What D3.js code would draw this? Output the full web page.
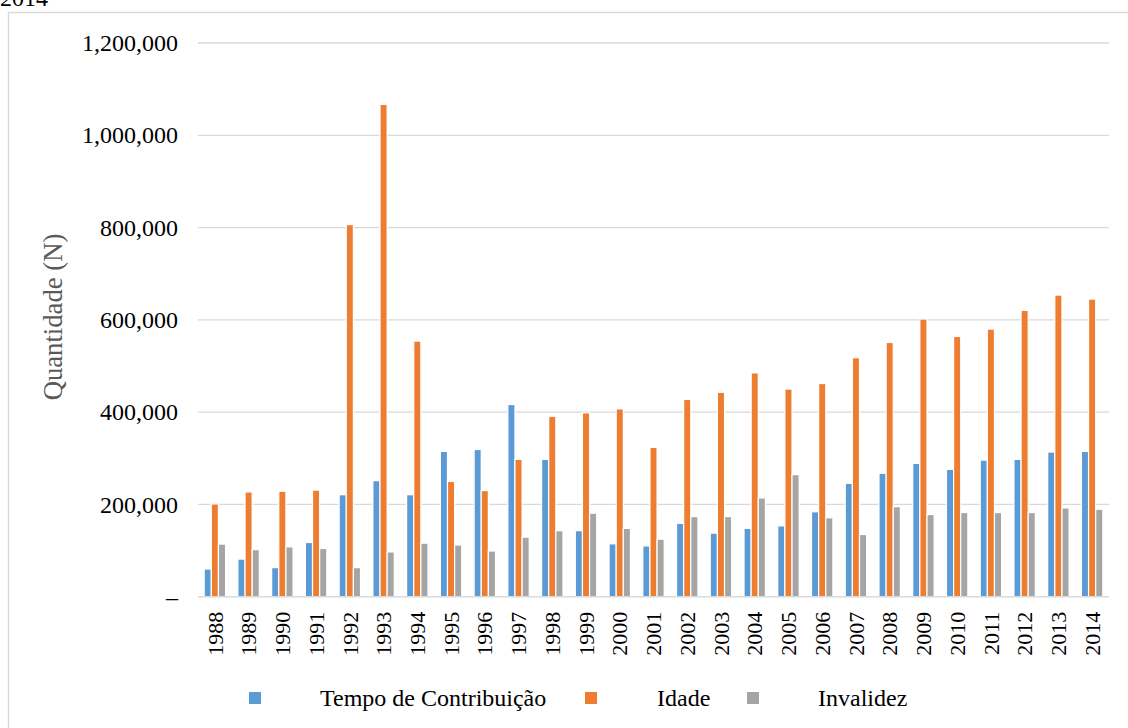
<!DOCTYPE html>
<html>
<head>
<meta charset="utf-8">
<script src="https://cdn.jsdelivr.net/npm/d3@7"></script>
<style>
  html, body { margin: 0; padding: 0; background: #fff; }
  svg { display: block; }
  svg text { font-family: "Liberation Serif", "Times New Roman", serif; }
</style>
</head>
<body>
<svg id="chart" width="1128" height="728"></svg>
<script>
const years = ["1988","1989","1990","1991","1992","1993","1994","1995","1996","1997","1998","1999","2000","2001","2002","2003","2004","2005","2006","2007","2008","2009","2010","2011","2012","2013","2014"];
const seriesNames = ["Tempo de Contribuição", "Idade", "Invalidez"];
const tempoContribuicao = [60000, 81500, 63000, 117500, 221000, 251500, 221000, 315000, 319000, 416500, 297700, 143000, 114600, 110000, 159000, 137700, 148000, 153500, 184000, 245800, 267500, 289000, 276000, 296000, 297700, 313500, 315000];
const idade = [201000, 227000, 228500, 231000, 806500, 1067000, 554000, 250000, 230000, 297700, 391000, 398500, 407000, 323600, 427500, 443000, 485000, 450000, 462000, 518000, 551000, 601800, 564000, 580000, 620500, 653700, 645000];
const invalidez = [114000, 102000, 108000, 104500, 63000, 97000, 116000, 112000, 99000, 129000, 143000, 181000, 148000, 124700, 173600, 173600, 214000, 264500, 171000, 134800, 195000, 178000, 182400, 182400, 182400, 192400, 189600];
const yTicks = [0, 200000, 400000, 600000, 800000, 1000000, 1200000];
const colors = ["#5B9BD5", "#ED7D31", "#A5A5A5"];

const allSeries = [tempoContribuicao, idade, invalidez];
const data = years.map((yr, i) => ({ year: yr, values: allSeries.map((s, k) => ({ k, v: s[i] })) }));
const FONT = "'Liberation Serif', 'Times New Roman', serif";

const svg = d3.select("#chart");

// outer chart border (only top & left visible)
svg.append("line").attr("x1", 8).attr("x2", 1128).attr("y1", 12.5).attr("y2", 12.5)
  .attr("stroke", "#d9d9d9").attr("stroke-width", 1.5);
svg.append("line").attr("x1", 8.5).attr("x2", 8.5).attr("y1", 12).attr("y2", 728)
  .attr("stroke", "#d9d9d9").attr("stroke-width", 1.5);

// cut-off title remnant (as in the reference, only its lower part is visible)
svg.append("text").attr("x", 0).attr("y", 6).attr("font-size", 24).attr("font-family", FONT)
  .attr("fill", "#000").text("2014");

const x0 = d3.scaleBand().domain(years).range([198, 1109]).paddingInner(0.366).paddingOuter(0.183);
const x1 = d3.scaleBand().domain([0, 1, 2]).range([0, x0.bandwidth()]);
const y = d3.scaleLinear().domain([0, 1200000]).range([596.7, 43]);

// gridlines
svg.append("g").selectAll("line").data(yTicks.filter(d => d > 0)).join("line")
  .attr("x1", 198).attr("x2", 1109)
  .attr("y1", d => y(d)).attr("y2", d => y(d))
  .attr("stroke", "#d9d9d9").attr("stroke-width", 1.3);

// y axis labels
const yAxis = d3.axisLeft(y).tickValues(yTicks).tickSize(0).tickPadding(0)
  .tickFormat(d => d === 0 ? "–" : d3.format(",")(d));
const gy = svg.append("g").attr("transform", "translate(178,0)").call(yAxis);
gy.attr("font-family", FONT);
gy.select(".domain").remove();
gy.selectAll("text").attr("font-size", 24).attr("fill", "#000")
  .attr("font-family", FONT).attr("dy", "0.32em");

// bars
const groups = svg.append("g").selectAll("g").data(data).join("g")
  .attr("transform", d => `translate(${x0(d.year)},0)`);
groups.selectAll("rect").data(d => d.values).join("rect")
  .attr("x", d => x1(d.k))
  .attr("width", x1.bandwidth())
  .attr("y", d => y(d.v))
  .attr("height", d => y(0) - y(d.v))
  .attr("fill", d => colors[d.k])
  .attr("stroke", "#fff").attr("stroke-width", 1.2);

// baseline
svg.append("line").attr("x1", 198).attr("x2", 1109).attr("y1", y(0)).attr("y2", y(0))
  .attr("stroke", "#d9d9d9").attr("stroke-width", 1.5);

// x axis labels
const xAxis = d3.axisBottom(x0).tickSize(0).tickPadding(0);
const gx = svg.append("g").attr("transform", `translate(0,${y(0)})`).call(xAxis);
gx.attr("font-family", FONT);
gx.select(".domain").remove();
gx.selectAll("text")
  .attr("font-size", 22).attr("fill", "#000")
  .attr("font-family", FONT)
  .attr("transform", "rotate(-90)")
  .attr("text-anchor", "end")
  .attr("x", -15).attr("y", 0).attr("dy", "0.35em");

// y title
svg.append("text")
  .attr("transform", "translate(53,317) rotate(-90)")
  .attr("text-anchor", "middle").attr("dominant-baseline", "central")
  .attr("font-family", FONT)
  .attr("font-size", 26.7).attr("fill", "#595959").text("Quantidade (N)");

// legend
const legendX = [{sq: 249, tx: 320}, {sq: 585, tx: 657}, {sq: 747, tx: 818}];
const lg = svg.append("g").selectAll("g").data(seriesNames).join("g");
lg.append("rect").attr("x", (d, i) => legendX[i].sq).attr("y", 692).attr("width", 12).attr("height", 12)
  .attr("fill", (d, i) => colors[i]);
lg.append("text").attr("x", (d, i) => legendX[i].tx).attr("y", 706)
  .attr("font-family", FONT)
  .attr("font-size", 24).attr("fill", "#000").text(d => d);
</script>
</body>
</html>
